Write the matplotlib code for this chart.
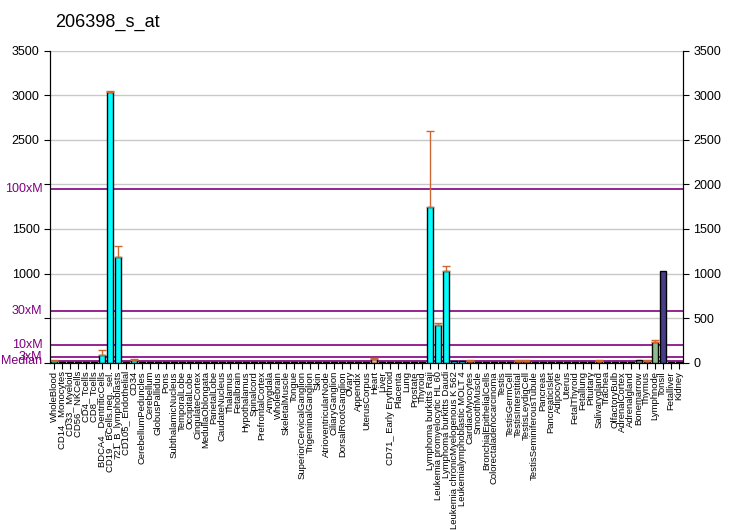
import matplotlib
matplotlib.use("Agg")
import matplotlib.pyplot as plt
import numpy as np

plt.rcParams['font.family'] = ['Liberation Sans', 'DejaVu Sans']

title = "206398_s_at"

labels = [
    "WholeBlood", "CD14_ Monocytes", "CD33_ Myeloid", "CD56_ NKCells", "CD4_ Tcells",
    "CD8_ Tcells", "BDCA4_ DentriticCells", "CD19_ BCells.neg._sel.", "721_B_lymphoblasts",
    "CD105_ Endothelial", "CD34", "CerebellumPeduncles", "Cerebellum", "GlobusPallidus",
    "Pons", "SubthalamicNucleus", "TemporalLobe", "OccipitalLobe", "CingulateCortex",
    "MedullaOblongata", "ParietalLobe", "CaudateNucleus", "Thalamus", "Fetalbrain",
    "Hypothalamus", "Spinalcord", "PrefrontalCortex", "Amygdala", "Wholebrain",
    "SkeletalMuscle", "Tongue", "SuperiorCervicalGanglion", "TrigeminalGanglion", "Skin",
    "AtrioventricularNode", "CiliaryGanglion", "DorsalRootGanglion", "Ovary", "Appendix",
    "UterusCorpus", "Heart", "Liver", "CD71_ Early Erythroid", "Placenta", "Lung",
    "Prostate", "Thyroid", "Lymphoma burkitts Raji", "Leukemia promyelocytic HL 60",
    "Lymphoma burkitts Daudi", "Leukemia chronicMyelogenous K 562",
    "Leukemialymphoblastic MOLT 4", "CardiacMyocytes", "SmoothMuscle",
    "BronchialEpithelialCells", "Colorectaladenocarcinoma", "Testis", "TestisGermCell",
    "TestisInterstitial", "TestisLeydigCell", "TestisSeminiferousTubule", "Pancreas",
    "PancreaticIslet", "Adipocyte", "Uterus", "FetalThyroid", "Fetallung", "Pituitary",
    "Salivarygland", "Trachea", "OlfactoryBulb", "AdrenalCortex", "Adrenalgland",
    "Bonemarrow", "Thymus", "Lymphnode", "Tonsil", "Fetalliver", "Kidney",
]

values = [
    20, 12, 12, 12, 12, 12, 83, 3034, 1183, 12,
    30, 10, 10, 10, 10, 10, 10, 10, 10, 10,
    10, 10, 10, 10, 10, 10, 10, 10, 10, 12,
    12, 10, 10, 10, 10, 10, 10, 10, 12, 12,
    45, 12, 12, 12, 12, 12, 12, 1744, 420, 1025,
    15, 15, 15, 12, 12, 12, 12, 12, 15, 15,
    12, 12, 12, 12, 12, 12, 12, 12, 15, 12,
    12, 12, 12, 30, 15, 229, 1029, 12, 12,
]

# upper end of each error bar (0 = none drawn)
errors = [
    30, 0, 0, 0, 0, 0, 139, 3045, 1309, 0,
    40, 0, 0, 0, 0, 0, 0, 0, 0, 0,
    0, 0, 0, 0, 0, 0, 0, 0, 0, 0,
    0, 0, 0, 0, 0, 0, 0, 0, 0, 0,
    48, 0, 0, 0, 0, 0, 0, 2596, 442, 1082,
    0, 0, 35, 0, 0, 0, 0, 0, 32, 32,
    0, 0, 0, 0, 0, 0, 0, 0, 32, 0,
    0, 0, 0, 0, 35, 255, 0, 0, 0,
]

colors = (
    ["#00FFFF"] * 11
    + ["#006400", "#2F2F2F", "#4B0033", "#006400", "#006400", "#2F2F2F", "#006400",
       "#2F2F2F", "#006400", "#006400", "#4B0033", "#006400", "#2F2F2F", "#006400",
       "#006400", "#2F2F2F", "#006400", "#4B0033"]
    + ["#FFB6C1", "#FFB6C1", "#4B0033", "#4B0033", "#2F2F2F", "#4B0033", "#4B0033",
       "#2F2F2F", "#8B008B", "#9400D3", "#B22222", "#DEB887", "#6A5ACD", "#9ACD32",
       "#FF6347", "#FA8072", "#8A2BE2", "#8B1A1A"]
    + ["#00FFFF"] * 5
    + ["#D2691E", "#00008B", "#008080", "#2F2F2F", "#D2691E", "#D2691E", "#D2691E",
       "#D2691E", "#8B4513", "#4B0033", "#2F2F2F", "#48D1CC", "#F4A460", "#DA70D6",
       "#8B008B", "#556B2F", "#FF8C00", "#9932CC", "#2F2F2F", "#FA8072", "#CD5C5C",
       "#808080", "#CD5C5C", "#8FBC8F", "#483D8B", "#4B0033", "#8B008B"]
)

median = 19.5
marks = [("Median", 1), ("3xM", 3), ("10xM", 10), ("30xM", 30), ("100xM", 100)]

fig = plt.figure(figsize=(7.32, 5.30), dpi=100)
ax = fig.add_axes([0.0683, 0.3157, 0.8643, 0.5886])

x = np.arange(len(labels))
ax.bar(x, values, width=0.75, color=colors, edgecolor="black", linewidth=1.0, zorder=3)

err_x = [i for i in x if errors[i] > values[i]]
err_lo = [0 for i in err_x]
err_hi = [errors[i] - values[i] for i in err_x]
ax.errorbar(err_x, [values[i] for i in err_x], yerr=[err_lo, err_hi], fmt="none",
            ecolor="#CC6633", elinewidth=1.0, capsize=3, capthick=1.0, zorder=4)

ax.set_ylim(0, 3500)
ax.set_xlim(-0.5, len(labels) - 0.5)
ax.set_yticks(np.arange(0, 3501, 500))
ax.yaxis.grid(True, color="#C8C8C8", linewidth=1.0, zorder=0)
ax.set_axisbelow(True)

hidden = {0, 500, 2000}
ax.set_yticklabels(["" if v in hidden else str(v) for v in range(0, 3501, 500)], fontsize=9)

for name, k in marks:
    yv = median * k
    ax.axhline(yv, color="#800080", linewidth=1.2, zorder=2)
    ax.text(-0.012, yv, name, transform=ax.get_yaxis_transform(), ha="right", va="center",
            color="#800080", fontsize=9)

ax2 = ax.twinx()
ax2.set_ylim(0, 3500)
ax2.set_yticks(np.arange(0, 3501, 500))
ax2.tick_params(axis="y", labelsize=9, length=4)

ax.set_xticks(x)
ax.set_xticklabels(labels, rotation=90, fontsize=6.8)
ax.tick_params(axis="x", length=4, pad=2)
ax.tick_params(axis="y", length=4)

for a in (ax, ax2):
    a.spines["top"].set_visible(False)

fig.text(0.075, 0.958, title, fontsize=13, ha="left", va="center")

fig.savefig("out.png", dpi=100)
